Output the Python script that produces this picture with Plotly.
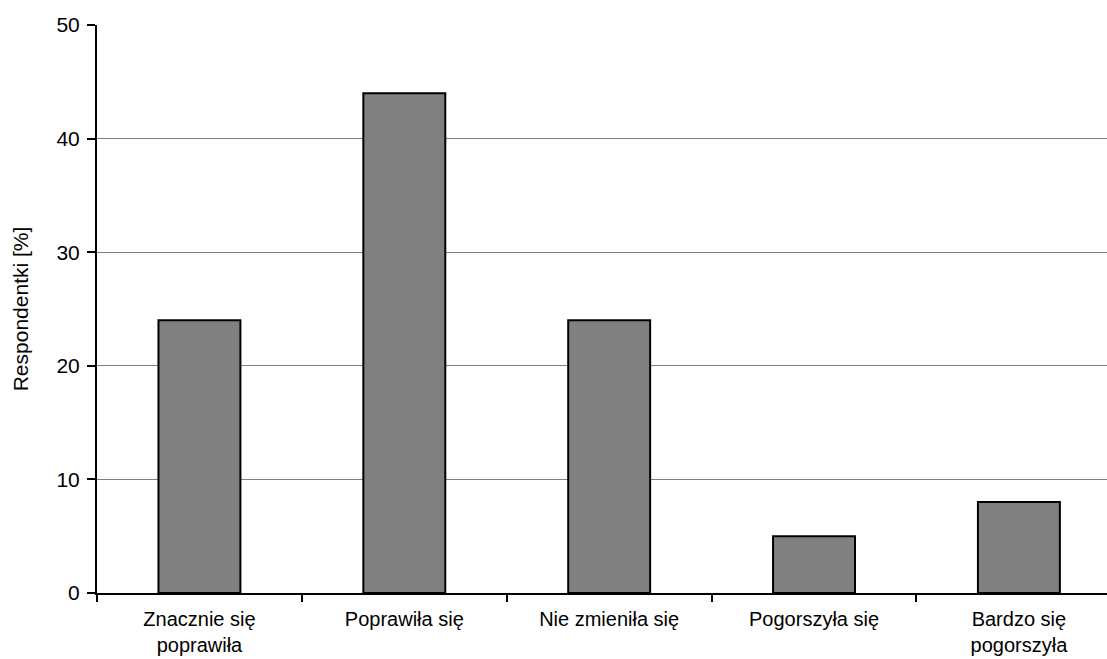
import plotly.graph_objects as go

categories = ["Znacznie się<br>poprawiła", "Poprawiła się", "Nie zmieniła się",
              "Pogorszyła się", "Bardzo się<br>pogorszyła"]
values = [24, 44, 24, 5, 8]
y_ticks = [0, 10, 20, 30, 40, 50]
y_title = "Respondentki [%]"

FONT = "Liberation Sans, Arial, sans-serif"

fig = go.Figure(go.Bar(
    x=categories, y=values, width=0.4,
    marker=dict(color="#808080", line=dict(color="black", width=2)),
))

fig.update_layout(
    width=1107, height=659,
    margin=dict(l=97, r=0, t=25, b=66),
    paper_bgcolor="white", plot_bgcolor="white",
    font=dict(family=FONT, size=21, color="black"),
    showlegend=False,
)
fig.update_xaxes(
    range=[-0.5, 4.43], showline=True, linecolor="black", linewidth=2,
    ticks="outside", ticklen=7, tickwidth=2, tickcolor="black",
    tickson="boundaries", showgrid=False, tickfont=dict(size=20),
    ticklabelstandoff=7, automargin=False,
)
fig.update_yaxes(
    range=[0, 50], tickvals=y_ticks, showline=True, linecolor="black", linewidth=2,
    ticks="outside", ticklen=8, tickwidth=2, tickcolor="black",
    showgrid=True, gridcolor="#808080", gridwidth=1, zeroline=False,
    tickfont=dict(size=21), ticklabelstandoff=3, automargin=False,
    title=dict(text=y_title, font=dict(size=21), standoff=22),
)

fig.write_html(
    "out.html",
    config={"displayModeBar": False},
    post_script="document.body.style.margin='0';document.body.style.overflow='hidden';",
)
